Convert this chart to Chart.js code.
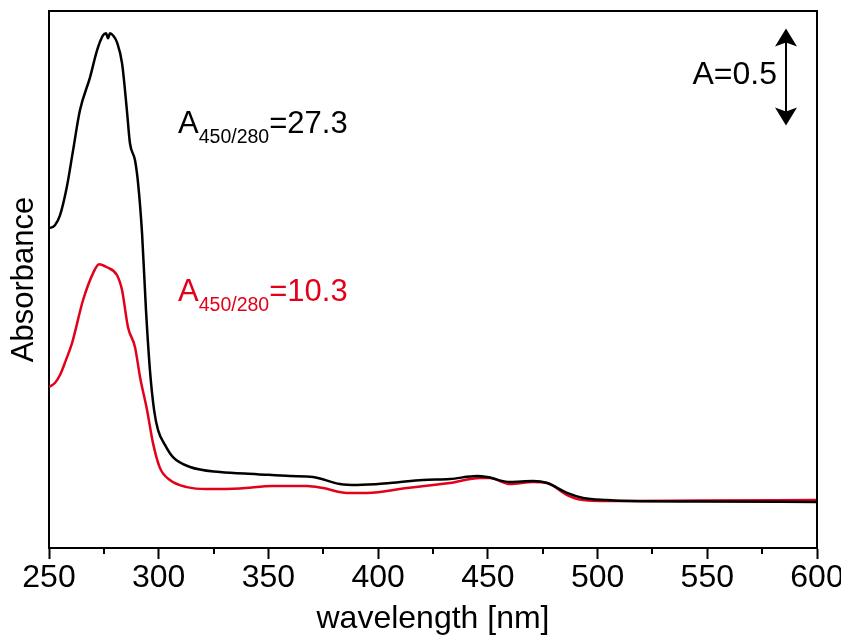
<!DOCTYPE html>
<html>
<head>
<meta charset="utf-8">
<script src="https://cdn.jsdelivr.net/npm/chart.js@4.4.0/dist/chart.umd.min.js"></script>
<style>
  html, body { margin: 0; padding: 0; background: #fff; }
  canvas { display: block; }
</style>
</head>
<body>
<canvas id="UvVis" width="841" height="635"></canvas>
<script>
// wavelength [nm] and absorbance
const blackWavelength = [250, 252.7, 255, 258.1, 260.9, 264.1, 268.7, 271.9, 274.6, 276, 276.9, 277.8, 279.2, 281, 283.3, 285.5, 286.9, 289.2, 290.6, 292.4, 294.2, 296, 297.9, 299.7, 302.9, 306.5, 314.3, 327.9, 344.8, 359.8, 370.3, 382.6, 390.4, 405.4, 420.4, 432.7, 445.1, 449.6, 460.1, 470.6, 477, 486.1, 493.4, 504.3, 514.8, 546.7, 600];
const blackAbs = [1.649, 1.665, 1.716, 1.861, 2.046, 2.258, 2.428, 2.567, 2.644, 2.655, 2.629, 2.655, 2.644, 2.608, 2.5, 2.258, 2.088, 2.0, 1.881, 1.624, 1.227, 0.918, 0.711, 0.608, 0.531, 0.469, 0.418, 0.392, 0.381, 0.371, 0.366, 0.33, 0.325, 0.335, 0.351, 0.356, 0.371, 0.366, 0.34, 0.345, 0.335, 0.284, 0.258, 0.247, 0.242, 0.24, 0.237];

const redWavelength = [250, 252.7, 255, 257.7, 260.5, 265.5, 270.1, 272.8, 276.4, 281, 283.3, 286, 289.2, 291.5, 294.7, 297.4, 300.6, 305.1, 312.9, 322, 337, 352.1, 367.6, 374.9, 385.8, 394.9, 413.2, 425, 432.7, 446.4, 451, 460.1, 470.6, 477, 486.1, 493.4, 504.3, 514.8, 546.7, 600];
const redAbs = [0.83, 0.851, 0.892, 0.969, 1.057, 1.278, 1.418, 1.464, 1.448, 1.407, 1.33, 1.139, 1.036, 0.881, 0.711, 0.541, 0.412, 0.351, 0.314, 0.304, 0.307, 0.32, 0.32, 0.309, 0.284, 0.284, 0.309, 0.325, 0.335, 0.361, 0.361, 0.33, 0.34, 0.335, 0.273, 0.247, 0.242, 0.242, 0.245, 0.247];

const majorTicks = [250, 300, 350, 400, 450, 500, 550, 600];
const minorTicks = [275, 325, 375, 425, 475, 525, 575];

const RED = "#e2001a";
const FONT = "'Liberation Sans', Arial, sans-serif";

const toPoints = (xs, ys) => xs.map((x, i) => ({ x: x, y: ys[i] }));

// frame, minor ticks, ratio labels and the A=0.5 scale arrow
const extrasPlugin = {
  id: "extras",
  afterDraw(chart) {
    const ctx = chart.ctx;
    const area = chart.chartArea;
    const xs = chart.scales.x;
    const ys = chart.scales.y;
    ctx.save();

    // top + right border
    ctx.strokeStyle = "#000";
    ctx.lineWidth = 2;
    ctx.beginPath();
    ctx.moveTo(area.left, area.top);
    ctx.lineTo(area.right, area.top);
    ctx.lineTo(area.right, area.bottom);
    ctx.stroke();

    // minor ticks
    minorTicks.forEach((v) => {
      const px = Math.round(xs.getPixelForValue(v));
      ctx.beginPath();
      ctx.moveTo(px, area.bottom);
      ctx.lineTo(px, area.bottom + 6);
      ctx.stroke();
    });

    // A450/280 labels
    const drawRatio = (x, y, value, color) => {
      ctx.fillStyle = color;
      ctx.textBaseline = "alphabetic";
      ctx.textAlign = "left";
      ctx.font = "31px " + FONT;
      ctx.fillText("A", x, y);
      let w = ctx.measureText("A").width;
      ctx.font = "19.5px " + FONT;
      ctx.fillText("450/280", x + w, y + 10);
      w += ctx.measureText("450/280").width;
      ctx.font = "31px " + FONT;
      ctx.fillText("=" + value, x + w, y);
    };
    const labelX = xs.getPixelForValue(308.8);
    drawRatio(labelX, ys.getPixelForValue(2.139), "27.3", "#000");
    drawRatio(labelX, ys.getPixelForValue(1.273), "10.3", RED);

    // scale bar arrow: A = 0.5
    const ax = xs.getPixelForValue(600) - 31;
    const yTop = ys.getPixelForValue(2.68);
    const yBot = ys.getPixelForValue(2.18);
    ctx.fillStyle = "#000";
    ctx.lineWidth = 2;
    ctx.beginPath();
    ctx.moveTo(ax, yTop + 10);
    ctx.lineTo(ax, yBot - 10);
    ctx.stroke();
    ctx.beginPath();
    ctx.moveTo(ax, yTop);
    ctx.lineTo(ax - 11, yTop + 18);
    ctx.lineTo(ax, yTop + 14);
    ctx.lineTo(ax + 11, yTop + 18);
    ctx.closePath();
    ctx.fill();
    ctx.beginPath();
    ctx.moveTo(ax, yBot);
    ctx.lineTo(ax - 11, yBot - 18);
    ctx.lineTo(ax, yBot - 14);
    ctx.lineTo(ax + 11, yBot - 18);
    ctx.closePath();
    ctx.fill();

    ctx.font = "32px " + FONT;
    ctx.textAlign = "right";
    ctx.textBaseline = "alphabetic";
    ctx.fillText("A=0.5", ax - 9, ys.getPixelForValue(2.392));
    ctx.restore();
  },
};

document.addEventListener("DOMContentLoaded", () => {
  const SpectrumArea = document.getElementById("UvVis");

  const SpectrumChart = new Chart(SpectrumArea, {
    type: "line",
    data: {
      datasets: [
        {
          label: "black",
          data: toPoints(blackWavelength, blackAbs),
          borderColor: "#000",
          borderWidth: 2.5,
          pointRadius: 0,
          cubicInterpolationMode: "monotone",
        },
        {
          label: "red",
          data: toPoints(redWavelength, redAbs),
          borderColor: RED,
          borderWidth: 2.5,
          pointRadius: 0,
          cubicInterpolationMode: "monotone",
        },
      ],
    },
    options: {
      responsive: false,
      animation: false,
      devicePixelRatio: 1,
      layout: { padding: { top: 11, right: 24, left: 0, bottom: 0 } },
      plugins: {
        legend: { display: false },
        tooltip: { enabled: false },
      },
      scales: {
        x: {
          type: "linear",
          min: 250,
          max: 600,
          afterFit: (scale) => {
            scale.height = 87;
            // let the end labels hang over the edges like the original
            scale.paddingLeft = 0;
            scale.paddingRight = 0;
          },
          afterBuildTicks: (scale) => {
            scale.ticks = majorTicks.map((v) => ({ value: v }));
          },
          ticks: {
            color: "#000",
            padding: 0,
            maxRotation: 0,
            font: { family: FONT, size: 32 },
          },
          grid: {
            drawOnChartArea: false,
            tickLength: 11,
            tickWidth: 2,
            tickColor: "#000",
          },
          border: { color: "#000", width: 2 },
          title: {
            display: true,
            text: "wavelength [nm]",
            color: "#000",
            font: { family: FONT, size: 32, lineHeight: 1 },
            padding: { top: 0, bottom: 0 },
          },
        },
        y: {
          min: 0,
          max: 2.77,
          afterFit: (scale) => { scale.width = 49; },
          ticks: { display: false },
          grid: { display: false, drawTicks: false },
          border: { color: "#000", width: 2 },
          title: {
            display: true,
            text: "Absorbance",
            color: "#000",
            font: { family: FONT, size: 31, lineHeight: 1 },
            padding: { top: 9, bottom: 0 },
          },
        },
      },
    },
    plugins: [extrasPlugin],
  });
});
</script>
</body>
</html>
